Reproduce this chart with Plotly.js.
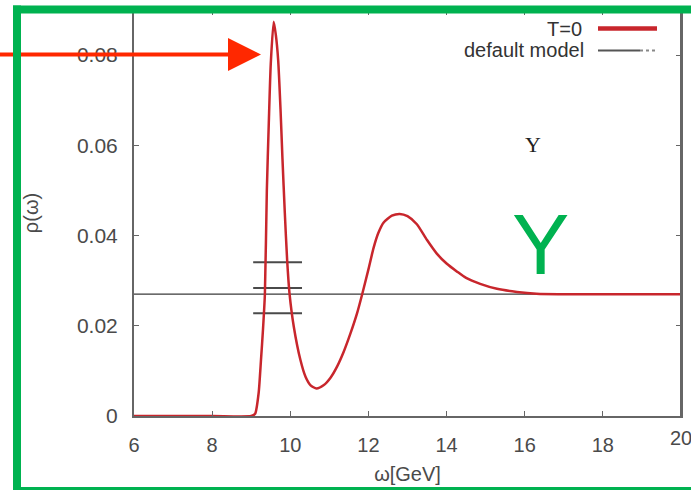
<!DOCTYPE html>
<html>
<head>
<meta charset="utf-8">
<script src="https://cdn.plot.ly/plotly-3.0.1.min.js"></script>
<style>
html,body{margin:0;padding:0;background:#fff;overflow:hidden;width:691px;height:490px;}
#chart{width:691px;height:490px;overflow:hidden;}
#chart .main-svg{overflow:hidden !important;}
</style>
</head>
<body>
<div id="chart"></div>
<script>
// ---- data ----
const omega = [6, 8, 9.0, 9.1, 9.19, 9.25, 9.30, 9.35, 9.40, 9.45, 9.50, 9.575, 9.63, 9.69, 9.75, 9.80, 9.86, 9.92, 9.98, 10.09, 10.26, 10.39, 10.52, 10.67, 10.85, 11.03, 11.2, 11.37, 11.54, 11.71, 11.84, 12.0, 12.13, 12.25, 12.39, 12.6, 12.8, 13.0, 13.24, 13.5, 13.75, 14.0, 14.27, 14.5, 14.86, 15.29, 15.8, 16.3, 17, 20];
const rhoT0 = [0, 0, 0, 0.0005, 0.0051, 0.0124, 0.019, 0.027, 0.050, 0.065, 0.078, 0.0874, 0.0845, 0.0789, 0.068, 0.057, 0.045, 0.0345, 0.0272, 0.0198, 0.0124, 0.0087, 0.0068, 0.0061, 0.0068, 0.0085, 0.011, 0.0143, 0.0183, 0.0228, 0.027, 0.0325, 0.0372, 0.0405, 0.0429, 0.0444, 0.0448, 0.0443, 0.0425, 0.0390, 0.0360, 0.0338, 0.0320, 0.0306, 0.0293, 0.0282, 0.0275, 0.0271, 0.027, 0.027];
const modelOmega = [6, 20];
const defaultModel = 0.027;
const bandLevels = [0.0341, 0.0284, 0.0228];
const bandRange = [9.05, 10.3];
const xTicks = [6, 8, 10, 12, 14, 16, 18, 20];
const yTicks = [0, 0.02, 0.04, 0.06, 0.08];
const yTickText = ["0", "0.02", "0.04", "0.06", "0.08"];
const legendNames = ["T=0", "default model"];

// ---- geometry helpers (pixel -> paper) ----
const W = 691, H = 490;
const M = {l: 134, r: 10, t: 10, b: 74};
const PW = W - M.l - M.r, PH = H - M.t - M.b;
const px = v => (v - M.l) / PW;
const py = v => (H - M.b - v) / PH;

const bandX = [], bandY = [];
bandLevels.forEach(l => { bandX.push(bandRange[0], bandRange[1], null); bandY.push(l, l, null); });

const red = 'rgb(200,38,44)';
const green = 'rgb(0,178,80)';
const axisCol = '#666';
const txtCol = '#4a4a4a';
const font = 'Liberation Sans, Arial, sans-serif';

const traces = [
  {x: modelOmega, y: modelOmega.map(() => defaultModel), mode: 'lines', name: legendNames[1],
   line: {color: '#3a3a3a', width: 1.3}, hoverinfo: 'skip'},
  {x: bandX, y: bandY, mode: 'lines', showlegend: false,
   line: {color: '#4a4a4a', width: 2}, hoverinfo: 'skip'},
  {x: omega, y: rhoT0, mode: 'lines', name: legendNames[0],
   line: {color: red, width: 2.5, shape: 'spline', smoothing: 0.6}}
];

const axisCommon = {
  showgrid: false, zeroline: false, showline: true, linecolor: axisCol, linewidth: 2,
  mirror: 'ticks', ticks: 'inside', ticklen: 5, tickwidth: 1.2, tickcolor: axisCol,
  tickfont: {family: font, size: 20, color: txtCol}
};

// last x tick label is drawn as an annotation so it can run off the right edge like the reference
const xTickText = xTicks.map((v, i) => i === xTicks.length - 1 ? '' : String(v));

const layout = {
  width: W, height: H, margin: M, paper_bgcolor: '#fff', plot_bgcolor: '#fff',
  showlegend: false,
  font: {family: font, color: txtCol},
  xaxis: Object.assign({}, axisCommon, {
    range: [6, 20], tickmode: 'array', tickvals: xTicks, ticktext: xTickText, ticklabelstandoff: 10,
    title: {text: 'ω[GeV]', font: {family: font, size: 20, color: txtCol}, standoff: 12}
  }),
  yaxis: Object.assign({}, axisCommon, {
    range: [0, 0.09], tickmode: 'array', tickvals: yTicks, ticktext: yTickText, ticklabelstandoff: 10,
    tickfont: {family: font, size: 21, color: txtCol},
    title: {text: 'ρ(ω)', font: {family: font, size: 20, color: txtCol}, standoff: 33}
  }),
  annotations: [
    {xref: 'x', yref: 'paper', x: xTicks[xTicks.length - 1], y: py(438), xanchor: 'center', yanchor: 'middle',
     text: String(xTicks[xTicks.length - 1]), showarrow: false, font: {family: font, size: 20, color: txtCol}},
    {xref: 'paper', yref: 'paper', x: px(584), y: py(29), xanchor: 'right', yanchor: 'middle',
     text: legendNames[0], showarrow: false, font: {family: font, size: 20, color: '#333'}},
    {xref: 'paper', yref: 'paper', x: px(586), y: py(50), xanchor: 'right', yanchor: 'middle',
     text: legendNames[1], showarrow: false, font: {family: font, size: 20, color: '#333'}},
    {xref: 'paper', yref: 'paper', x: px(533), y: py(144), xanchor: 'center', yanchor: 'middle',
     text: 'Υ', showarrow: false, font: {family: 'Liberation Serif, DejaVu Serif, serif', size: 22, color: '#222'}},
    {xref: 'paper', yref: 'paper', x: px(540), y: py(244), xanchor: 'center', yanchor: 'middle',
     text: 'Y', showarrow: false, font: {family: font, size: 86, color: green}}
  ],
  shapes: [
    // right frame of the plot box
    {type: 'line', xref: 'paper', yref: 'paper', x0: 1, x1: 1, y0: 0, y1: 1,
     line: {color: axisCol, width: 2}},
    // legend samples
    {type: 'line', xref: 'paper', yref: 'paper', x0: px(598), x1: px(657), y0: py(28.5), y1: py(28.5),
     line: {color: red, width: 4.5}},
    {type: 'line', xref: 'paper', yref: 'paper', x0: px(598), x1: px(640), y0: py(50.5), y1: py(50.5),
     line: {color: '#555', width: 2}},
    {type: 'line', xref: 'paper', yref: 'paper', x0: px(640), x1: px(656), y0: py(50.5), y1: py(50.5),
     line: {color: '#888', width: 2, dash: 'dot'}},
    // red arrow (kept inside the canvas)
    {type: 'line', xref: 'paper', yref: 'paper', x0: px(0), x1: px(232), y0: py(54.5), y1: py(54.5),
     line: {color: 'rgb(255,40,0)', width: 4}},
    {type: 'path', xref: 'paper', yref: 'paper',
     path: `M ${px(228)} ${py(38)} L ${px(261)} ${py(54.5)} L ${px(228)} ${py(71)} Z`,
     fillcolor: 'rgb(255,40,0)', line: {color: 'rgb(255,40,0)', width: 0}},
    // green frame (top, left, bottom) kept inside the canvas
    {type: 'line', xref: 'paper', yref: 'paper', x0: px(13), x1: px(691), y0: py(9.5), y1: py(9.5),
     line: {color: green, width: 8}},
    {type: 'line', xref: 'paper', yref: 'paper', x0: px(17), x1: px(17), y0: py(5.5), y1: py(490),
     line: {color: green, width: 8}},
    {type: 'line', xref: 'paper', yref: 'paper', x0: px(13), x1: px(691), y0: py(488.5), y1: py(488.5),
     line: {color: green, width: 3}}
  ]
};

Plotly.newPlot('chart', traces, layout, {displayModeBar: false, staticPlot: true});
</script>
</body>
</html>
